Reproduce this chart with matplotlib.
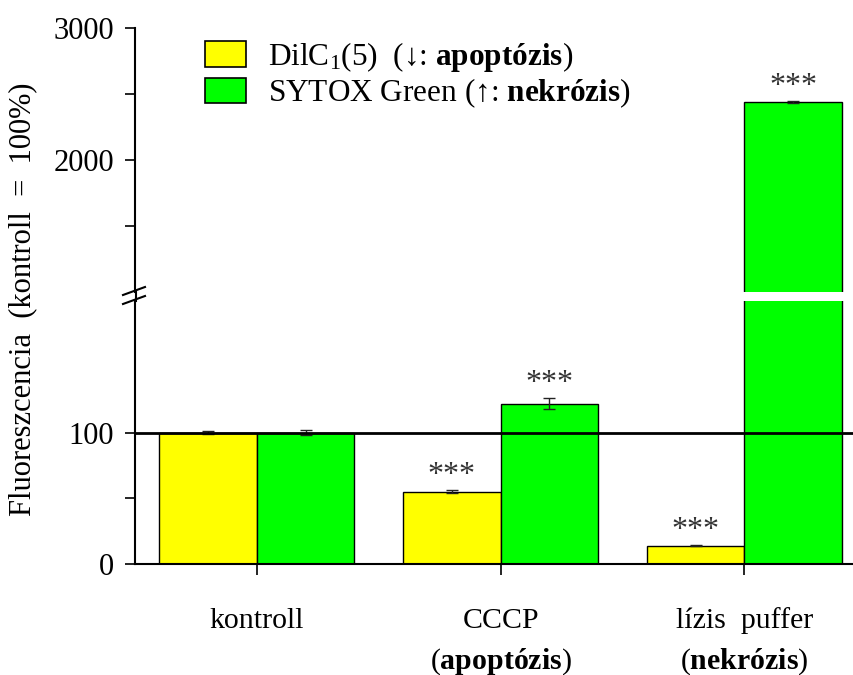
import matplotlib
matplotlib.use("Agg")
import matplotlib.pyplot as plt
from matplotlib.patches import Patch
from matplotlib.lines import Line2D
import numpy as np

plt.rcParams.update({
    "font.family": ["Liberation Serif", "DejaVu Serif"],
    "mathtext.fontset": "custom",
    "mathtext.rm": "Liberation Serif",
    "mathtext.it": "Liberation Serif:italic",
    "mathtext.bf": "Liberation Serif:bold",
})

groups = ["kontroll", "CCCP", "lízis  puffer"]
group_sub = ["", "apoptózis", "nekrózis"]
dilc_vals = [100, 55, 14]
dilc_err = [0.8, 1.2, 0.5]
sytox_vals = [100, 122, 2440]
sytox_err = [1.8, 4.5, 10]
stars_dilc = ["", "***", "***"]
stars_sytox = ["", "***", "***"]

YELLOW = "#FFFF00"
GREEN = "#00FF00"
W, H = 854, 675

fig = plt.figure(figsize=(W / 100, H / 100), dpi=100)

def px_box(left, top, right, bottom):
    return [left / W, 1 - bottom / H, (right - left) / W, (bottom - top) / H]

ax_hi = fig.add_axes(px_box(135, 28, 854, 292))
ax_lo = fig.add_axes(px_box(135, 301, 854, 564))

x = np.arange(len(groups))
bw = 0.4
for ax in (ax_hi, ax_lo):
    ax.bar(x - bw / 2, dilc_vals, bw, color=YELLOW, edgecolor="black", linewidth=1, zorder=2)
    ax.bar(x + bw / 2, sytox_vals, bw, color=GREEN, edgecolor="black", linewidth=1, zorder=2)
    ax.errorbar(x - bw / 2, dilc_vals, yerr=dilc_err, fmt="none", ecolor="#222222",
                elinewidth=1, capsize=4.5, capthick=1, zorder=3)
    ax.errorbar(x + bw / 2, sytox_vals, yerr=sytox_err, fmt="none", ecolor="#222222",
                elinewidth=1, capsize=4.5, capthick=1, zorder=3)
    ax.set_xlim(-0.5, 2.45)
    for s in ("top", "right"):
        ax.spines[s].set_visible(False)
    ax.spines["left"].set_linewidth(1.5)
    ax.tick_params(axis="y", direction="out", length=7, width=1.2, labelsize=22, pad=8)
    ax.tick_params(axis="y", which="minor", direction="out", length=7, width=1.2)

ax_hi.set_ylim(1000, 3000)
ax_hi.set_yticks([2000, 3000])
ax_hi.set_yticks([1500, 2500], minor=True)
ax_hi.spines["bottom"].set_visible(False)
ax_hi.tick_params(axis="x", bottom=False, labelbottom=False)

ax_lo.set_ylim(0, 200)
ax_lo.set_yticks([0, 100])
ax_lo.set_yticks([50], minor=True)
ax_lo.spines["bottom"].set_linewidth(1.5)
ax_lo.set_xticks(x)
ax_lo.set_xticklabels([])
ax_lo.tick_params(axis="x", direction="out", length=8, width=1.2)
ax_lo.axhline(100, color="black", linewidth=2, zorder=4)

# significance stars above the error bars
for xs, vals, errs, stars in ((x - bw / 2, dilc_vals, dilc_err, stars_dilc),
                              (x + bw / 2, sytox_vals, sytox_err, stars_sytox)):
    for xi, v, e, s in zip(xs, vals, errs, stars):
        if not s:
            continue
        ax = ax_hi if v > 200 else ax_lo
        ax.annotate(s, xy=(xi, v + e), xytext=(0, 5), textcoords="offset points",
                    ha="center", va="baseline", fontsize=23, color="#333333")

# category labels under the axis
for xi, name, sub in zip(x, groups, group_sub):
    ax_lo.annotate(name, xy=(xi, 0), xycoords=("data", "axes fraction"),
                   xytext=(0, -41), textcoords="offset points",
                   ha="center", va="center", fontsize=21.5)
    if sub:
        ax_lo.annotate("(" + r"$\mathbf{" + sub + "}$" + ")", xy=(xi, 0),
                       xycoords=("data", "axes fraction"),
                       xytext=(0, -70), textcoords="offset points",
                       ha="center", va="center", fontsize=21.5)

# continuous y spine through the break, with the two slash marks
def fx(p):
    return p / W

def fy(p):
    return 1 - p / H

fig.add_artist(Line2D([fx(135.5), fx(135.5)], [fy(292), fy(301)], color="black", lw=1.5))
fig.add_artist(Line2D([fx(123), fx(145)], [fy(295), fy(287)], color="black", lw=1.5))
fig.add_artist(Line2D([fx(123), fx(145)], [fy(304), fy(296)], color="black", lw=1.5))

fig.text(fx(23), fy(299), "Fluoreszcencia  (kontroll  =  100%)", rotation=90,
         ha="center", va="center", fontsize=22)

handles = [Patch(facecolor=YELLOW, edgecolor="black", linewidth=1.2),
           Patch(facecolor=GREEN, edgecolor="black", linewidth=1.2)]
labels = [r"DilC$_1$(5)  (↓: $\mathbf{apoptózis}$)",
          r"SYTOX Green (↑: $\mathbf{nekrózis}$)"]
fig.legend(handles, labels, loc="upper left", bbox_to_anchor=(fx(205), fy(40)),
           frameon=False, fontsize=22.5, handlelength=1.3, handleheight=0.88,
           handletextpad=0.7, labelspacing=0.08, borderpad=0, borderaxespad=0)

fig.savefig("out.png", dpi=100, facecolor="white")
